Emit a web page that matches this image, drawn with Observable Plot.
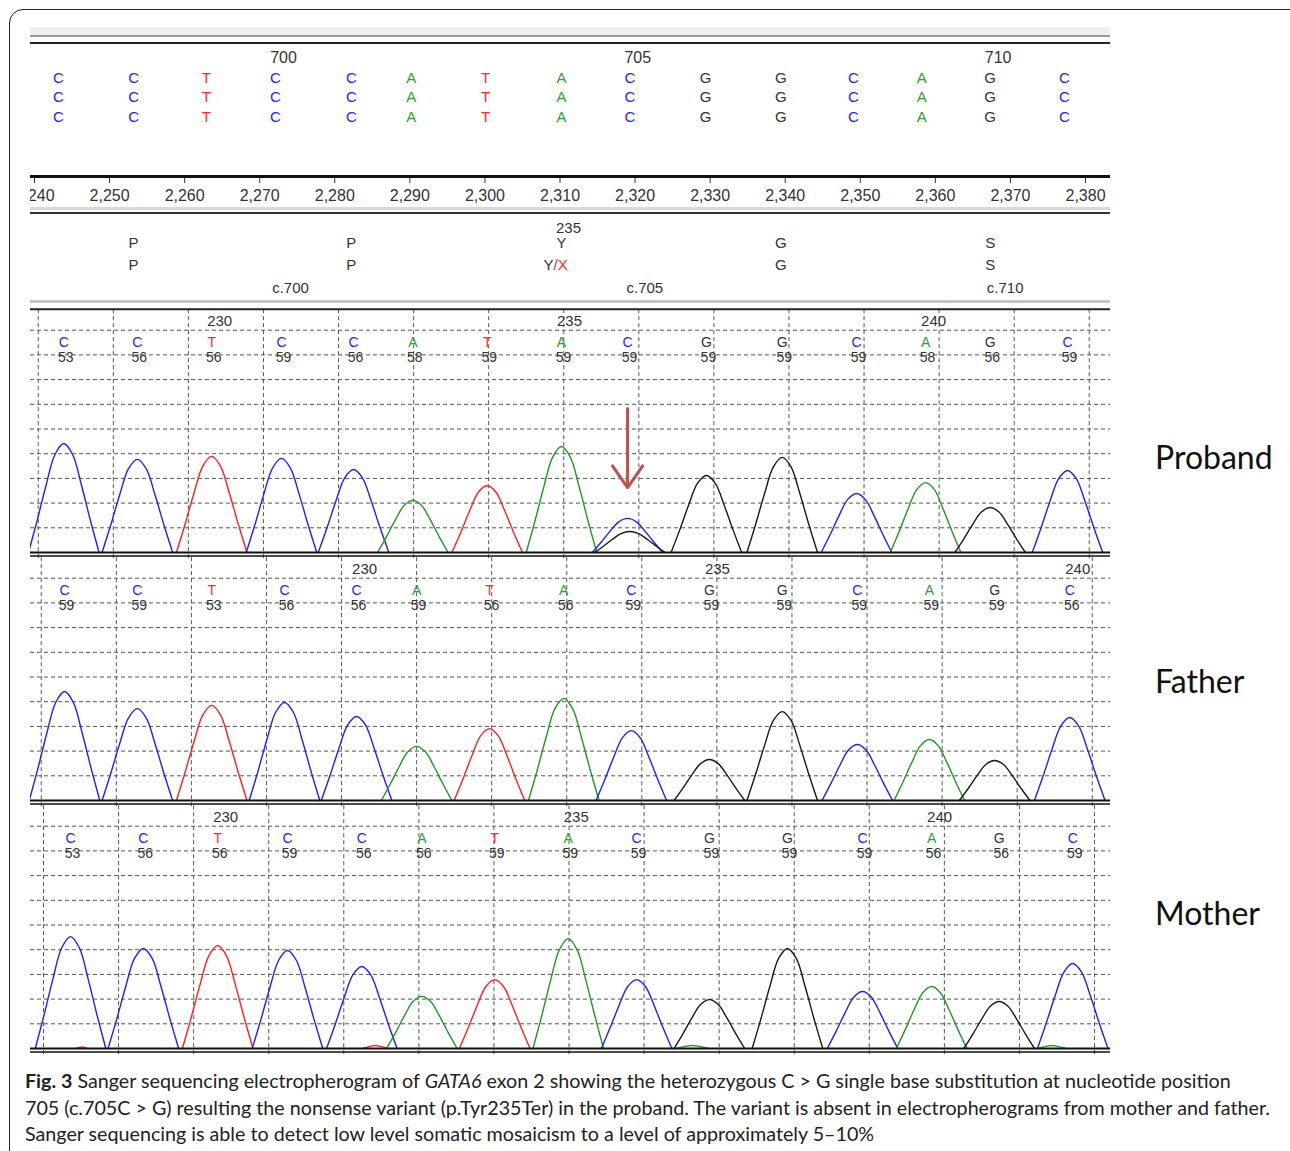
<!DOCTYPE html>
<html><head><meta charset="utf-8">
<script src="https://cdn.jsdelivr.net/npm/d3@7"></script>
<script src="https://cdn.jsdelivr.net/npm/@observablehq/plot@0.6"></script>
<style>
html,body{margin:0;padding:0;background:#fff;}
body{width:1290px;height:1151px;position:relative;overflow:hidden;font-family:"Liberation Sans",Arial,sans-serif;}
.frame{position:absolute;left:9px;top:9px;width:1310px;height:1170px;border:1.5px solid #222;border-radius:14px;box-sizing:border-box;}
.part{position:absolute;left:30px;width:1080px;overflow:hidden;}
.hl{position:absolute;left:30px;width:1080px;}
.who{position:absolute;left:1155px;font-family:Lato,"Open Sans",sans-serif;font-size:32px;color:#111;line-height:1;}
.cap{position:absolute;left:25px;top:1068px;font-family:Lato,sans-serif;font-size:19.7px;line-height:26.5px;color:#222;white-space:nowrap;}
</style></head>
<body>
<div class="frame"></div>
<div class="hl" style="top:27px;height:8px;background:#efefef"></div>
<div class="hl" style="top:35px;height:2px;background:#9a9a9a"></div>
<div class="hl" style="top:42px;height:2px;background:#222"></div>
<div class="hl" style="top:207px;height:3px;background:#d8d8d8"></div>
<div class="hl" style="top:212px;height:2px;background:#333"></div>
<div class="hl" style="top:300px;height:3px;background:#c4c4c4"></div>
<div id="secA" class="part" style="top:40px;height:175px"></div>
<div id="secB" class="part" style="top:214px;height:92px"></div>
<div id="proband" class="part" style="top:300px;height:262px"></div>
<div id="father" class="part" style="top:548px;height:262px"></div>
<div id="mother" class="part" style="top:796px;height:262px"></div>
<div class="who" style="top:441px">Proband</div>
<div class="who" style="top:665px">Father</div>
<div class="who" style="top:897px">Mother</div>
<div class="cap"><b>Fig. 3</b> Sanger sequencing electropherogram of <i>GATA6</i> exon 2 showing the heterozygous C &gt; G single base substitution at nucleotide position<br>705 (c.705C &gt; G) resulting the nonsense variant (p.Tyr235Ter) in the proband. The variant is absent in electropherograms from mother and father.<br>Sanger sequencing is able to detect low level somatic mosaicism to a level of approximately 5–10%</div>
<script>
// ---- data ----
const bases = ["C","C","T","C","C","A","T","A","C","G","G","C","A","G","C"];
const cdnaFirst = 697;
const seqPos = [2243.2,2253.2,2262.9,2272.1,2282.2,2290.2,2300.1,2310.2,2319.3,2329.4,2339.4,2349.1,2358.2,2367.3,2377.2];
const axisTicks = [2240,2250,2260,2270,2280,2290,2300,2310,2320,2330,2340,2350,2360,2370,2380];
const codonMidIndex = [1,4,7,10,13];
const codonNumbers = [233,234,235,236,237];
const refAA = ["P","P","Y","G","S"];
const sampleAA = ["P","P","Y/X","G","S"];

const probandPos = [2243.9,2253.7,2263.6,2272.9,2282.5,2290.4,2300.3,2310.2,2319.0,2329.5,2339.6,2349.5,2358.7,2367.3,2377.6];
const probandHeight = [441,377,389,381,336,211,271,429,138,312,385,239,283,182,332];
const probandQuality = [53,56,56,59,56,58,59,59,59,59,59,59,58,56,59];
const probandFirst = 228;
const probandMinorBase = ["G"];
const probandMinorPos = [2319.3];
const probandMinorHeight = [85];

const fatherPos = [2244.0,2253.7,2263.6,2273.3,2282.9,2290.9,2300.6,2310.5,2319.5,2329.9,2339.6,2349.6,2359.2,2367.9,2377.9];
const fatherHeight = [441,372,385,397,340,219,291,413,283,166,360,227,247,162,336];
const fatherQuality = [59,59,53,56,56,59,56,56,59,59,59,59,59,59,56];
const fatherFirst = 226;

const motherPos = [2244.8,2254.5,2264.4,2273.7,2283.6,2291.6,2301.3,2311.1,2320.2,2329.9,2340.3,2350.3,2359.5,2368.5,2378.3];
const motherHeight = [453,405,417,397,332,211,279,445,279,198,405,231,251,190,344];
const motherQuality = [53,56,56,59,56,56,59,59,59,59,59,59,56,56,59];
const motherFirst = 228;
const motherNoiseBase = ["T","A","A","T"];
const motherNoisePos = [2285.4,2327.6,2375.5,2246.3];
const motherNoiseHeight = [12,12,12,6];
const motherNoiseWidth = [1.7,2.2,1.9,0.8];

const gridStart = {proband: 2240.5, father: 2240.9, mother: 2241.2};
const variantIndex = 8; // c.705

// shape of one trace peak (relative offset, relative height)
const PEAK_PROFILE = [[-1,0],[-0.75,0.3],[-0.5,0.62],[-0.25,0.9],[0,1],[0.25,0.9],[0.5,0.62],[0.75,0.3],[1,0]];
const HALF_WIDTH = 4.7;

// ---- styling ----
const X = {domain: [2240, 2380], range: [4, 1055]};
const COLORS = {domain: ["A","C","G","T"], range: ["#1e9a1e","#1f1fff","#1a1a1a","#ff1f1f"]};
const TEXT_COLORS = {domain: ["A","C","G","T"], range: ["#2fa12f","#2323ff","#333333","#ff2a2a"]};
const baseStyle = {background: "transparent", fontFamily: "'Liberation Sans', Arial, sans-serif", color: "#333"};

// ---- top sequence + axis ----
const seqData = bases.map((b, i) => ({b, x: seqPos[i], n: cdnaFirst + i}));
document.getElementById("secA").append(Plot.plot({
  width: 1080, height: 175, marginTop: 0, marginBottom: 39, marginLeft: 0, marginRight: 0,
  style: {...baseStyle, fontSize: "16px"},
  x: {...X, ticks: axisTicks, tickFormat: d3.format(","), tickSize: 7, tickPadding: 6, label: null},
  y: {domain: [0, 1], range: [136, 0], axis: null},
  color: TEXT_COLORS,
  marks: [
    Plot.ruleY([0], {stroke: "#111", strokeWidth: 3}),
    Plot.text(seqData.filter(d => d.n % 5 === 0), {x: "x", text: d => String(d.n), frameAnchor: "top", lineAnchor: "middle", dy: 17, dx: 8, fontSize: 16, fill: "#333"}),
    ...[38, 57, 77].map(dy => Plot.text(seqData, {x: "x", text: "b", fill: "b", frameAnchor: "top", lineAnchor: "middle", dy, fontSize: 15}))
  ]
}));

// ---- amino acid annotation ----
const codons = codonMidIndex.map((i, k) => ({x: seqPos[i], num: codonNumbers[k], ref: refAA[k], alt: sampleAA[k]}));
const mutCodons = codons.filter(d => d.alt.includes("/"));
const ann = {frameAnchor: "top", lineAnchor: "middle", fontSize: 15, fill: "#333"};
document.getElementById("secB").append(Plot.plot({
  width: 1080, height: 92, margin: 0,
  style: {...baseStyle, fontSize: "15px"},
  x: {...X, axis: null},
  marks: [
    Plot.text(codons.filter(d => d.num % 5 === 0), {...ann, x: "x", text: d => String(d.num), dy: 14, dx: 7}),
    Plot.text(codons, {...ann, x: "x", text: "ref", dy: 29}),
    Plot.text(codons.filter(d => !d.alt.includes("/")), {...ann, x: "x", text: "alt", dy: 51}),
    Plot.text(mutCodons, {...ann, x: "x", text: d => d.alt.split("/")[0], dy: 51, dx: -8, textAnchor: "end"}),
    Plot.text(mutCodons, {...ann, x: "x", text: d => "/" + d.alt.split("/")[1], dy: 51, dx: -8, textAnchor: "start", fill: "#ff2a2a"}),
    Plot.text(seqData.filter(d => d.n % 5 === 0), {...ann, x: "x", text: d => "c." + d.n, dy: 74, dx: 15})
  ]
}));

// ---- trace panels ----
function tracePanel({pos, heights, qual, first, grid0, extra = [], arrow = false, topLine = false}) {
  const calls = bases.map((b, i) => ({b, x: pos[i], q: qual[i], n: first + i}));
  const peaks = [...bases.map((b, i) => ({b, x: pos[i], h: heights[i], w: HALF_WIDTH})), ...extra];
  const pts = peaks.flatMap((p, k) => PEAK_PROFILE.map(([t, f]) => ({id: k, b: p.b, x: p.x + t * p.w, y: p.h * f})));
  const grid = d3.range(grid0, 2385, 10);
  return Plot.plot({
    width: 1080, height: 262, margin: 0,
    style: {...baseStyle, fontSize: "14px"},
    x: {...X, axis: null},
    y: {domain: [0, 1000], range: [252, 5], axis: null},
    color: COLORS,
    marks: [
      Plot.ruleY(d3.range(100, 1000, 100), {stroke: "#555", strokeWidth: 1, strokeDasharray: "4,3"}),
      Plot.ruleX(grid, {y1: -25, y2: 985, stroke: "#555", strokeWidth: 1, strokeDasharray: "4,3"}),
      topLine ? Plot.ruleY([985], {stroke: "#222", strokeWidth: 2}) : null,
      Plot.line(pts, {x: "x", y: "y", z: "id", stroke: "b", strokeWidth: 1.4, curve: "catmull-rom"}),
      Plot.ruleY([0], {stroke: "#111", strokeWidth: 2.2}),
      Plot.ruleY([0], {stroke: "#111", strokeWidth: 1.4, dy: 3.5}),
      Plot.text(calls.filter(d => d.n % 5 === 0), {x: "x", y: 937, text: d => String(d.n), dx: 8, fontSize: 15, fill: "#333"}),
      Plot.text(calls, {x: "x", y: 852, text: "b", fill: d => TEXT_COLORS.range[TEXT_COLORS.domain.indexOf(d.b)], fontSize: 14}),
      Plot.text(calls, {x: "x", y: 791, text: d => String(d.q), dx: 2, fontSize: 14, fill: "#333"}),
      arrow ? Plot.arrow([calls[variantIndex]], {x1: "x", x2: "x", y1: 583, y2: 263, stroke: "#c0504d", strokeWidth: 3, headLength: 14, headAngle: 70}) : null
    ]
  });
}

document.getElementById("proband").append(tracePanel({
  pos: probandPos, heights: probandHeight, qual: probandQuality, first: probandFirst, grid0: gridStart.proband,
  extra: probandMinorBase.map((b, i) => ({b, x: probandMinorPos[i], h: probandMinorHeight[i], w: HALF_WIDTH})),
  arrow: true, topLine: true
}));
document.getElementById("father").append(tracePanel({
  pos: fatherPos, heights: fatherHeight, qual: fatherQuality, first: fatherFirst, grid0: gridStart.father
}));
document.getElementById("mother").append(tracePanel({
  pos: motherPos, heights: motherHeight, qual: motherQuality, first: motherFirst, grid0: gridStart.mother,
  extra: motherNoiseBase.map((b, i) => ({b, x: motherNoisePos[i], h: motherNoiseHeight[i], w: motherNoiseWidth[i]}))
}));
</script>
</body></html>
